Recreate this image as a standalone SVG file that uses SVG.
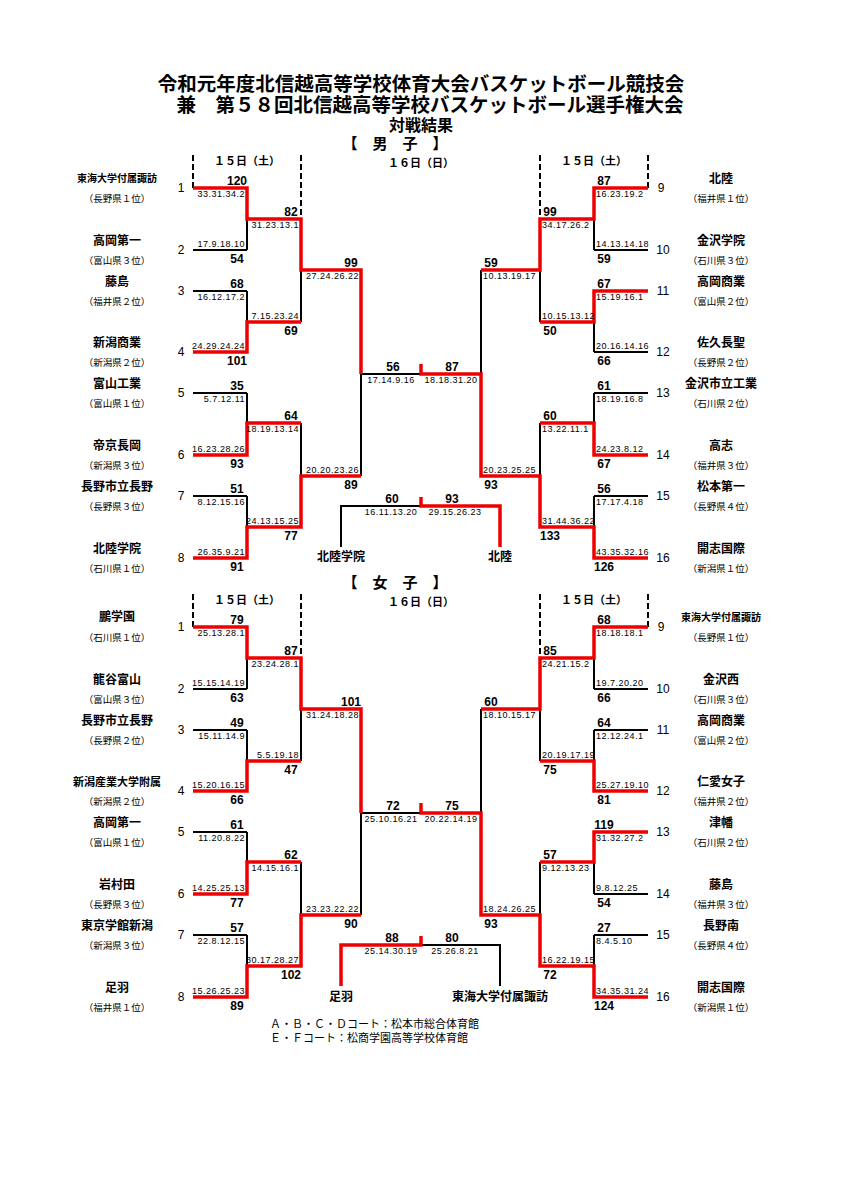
<svg xmlns="http://www.w3.org/2000/svg" width="848" height="1200" viewBox="0 0 848 1200">
<style>
text{font-family:"Liberation Sans","Noto Sans CJK JP",sans-serif;fill:#000}
.t{font-size:19.5px;font-weight:bold;text-anchor:middle}
.h{font-size:15px;font-weight:bold;text-anchor:middle}
.dt{font-size:11px;font-weight:bold;text-anchor:middle}
.n{font-size:12px;font-weight:bold;text-anchor:middle}
.ns{font-size:10px;font-weight:bold;text-anchor:middle}
.p{font-size:9.5px;text-anchor:middle}
.num{font-size:12px;text-anchor:middle}
.s{font-size:12px;font-weight:bold;text-anchor:middle}
.qe{font-size:9px;letter-spacing:0.5px;text-anchor:end}
.qs{font-size:9px;letter-spacing:0.5px;text-anchor:start}
.qm{font-size:9px;letter-spacing:0.5px;text-anchor:middle}
.f{font-size:11px}
.k{fill:none;stroke:#000;stroke-width:2}
.r{fill:none;stroke:#e00;stroke-width:3.5}
.d{fill:none;stroke:#000;stroke-width:2;stroke-dasharray:6,3}
</style>
<rect width="848" height="1200" fill="#fff"/>
<g id="title">
<text class="t" x="421" y="91">令和元年度北信越高等学校体育大会バスケットボール競技会</text>
<text class="t" x="430" y="112">兼　第５８回北信越高等学校バスケットボール選手権大会</text>
<text class="h" x="421" y="131" style="font-size:16px">対戦結果</text>
<text class="h" x="395" y="149">【　男　子　】</text>
<text class="dt" x="247" y="165">１５日（土）</text>
<text class="dt" x="421" y="167">１６日（日）</text>
<text class="dt" x="594" y="165">１５日（土）</text>
<text class="h" x="395" y="588">【　女　子　】</text>
<text class="dt" x="247" y="604">１５日（土）</text>
<text class="dt" x="421" y="606">１６日（日）</text>
<text class="dt" x="594" y="604">１５日（土）</text>
</g>
<g id="connectors">
<path class="d" d="M193 155V188M301 155V219M540 155V219M648 155V188M193 594V627M301 594V658M540 594V658M648 594V627"/>
<path class="k" d="M193 250H247M193 291H247M193 393H247M193 496H247M247 219V250M247 291V322M247 393V423M247 496V527M301 270V322M301 423V476M361 374V476M361 374H421"/>
<path class="k" d="M594 250H648M594 352H648M594 393H648M594 496H648M594 219V250M594 322V352M594 393V423M594 496V527M540 270V322M540 423V476M481 270V374"/>
<path class="k" d="M421 506H341V547"/>
<path class="r" d="M193 188H247V219H301V270H361V374M193 352H247V322H301M193 455H247V423H301M193 558H247V527H301V476H361"/>
<path class="r" d="M648 188H594V219H540V270H481M648 291H594V322H540M648 455H594V423H540M648 558H594V527H540V476H481V374H421V364"/>
<path class="r" d="M421 497V506H500V547"/>
<path class="k" d="M193 689H247M193 730H247M193 832H247M193 935H247M247 658V689M247 730V761M247 832V862M247 935V966M301 709V761M301 862V915M361 813V915M361 813H421"/>
<path class="k" d="M594 689H648M594 730H648M594 894H648M594 935H648M594 658V689M594 730V761M594 862V894M594 935V966M540 709V761M540 862V915M481 709V813"/>
<path class="k" d="M421 945H500V986"/>
<path class="r" d="M193 627H247V658H301V709H361V813M193 791H247V761H301M193 894H247V862H301M193 997H247V966H301V915H361"/>
<path class="r" d="M648 627H594V658H540V709H481M648 791H594V761H540M648 832H594V862H540M648 997H594V966H540V915H481V813H421V803"/>
<path class="r" d="M421 936V945H341V986"/>
</g>
<g id="m1"><text class="ns" x="117" y="182">東海大学付属諏訪</text><text class="p" x="117" y="202">（長野県１位）</text><text class="num" x="181" y="192">1</text></g>
<g id="m2"><text class="n" x="117" y="245">高岡第一</text><text class="p" x="117" y="264">（富山県３位）</text><text class="num" x="181" y="254">2</text></g>
<g id="m3"><text class="n" x="117" y="286">藤島</text><text class="p" x="117" y="305">（福井県２位）</text><text class="num" x="181" y="295">3</text></g>
<g id="m4"><text class="n" x="117" y="347">新潟商業</text><text class="p" x="117" y="366">（新潟県２位）</text><text class="num" x="181" y="356">4</text></g>
<g id="m5"><text class="n" x="117" y="388">富山工業</text><text class="p" x="117" y="407">（富山県１位）</text><text class="num" x="181" y="397">5</text></g>
<g id="m6"><text class="n" x="117" y="450">帝京長岡</text><text class="p" x="117" y="469">（新潟県３位）</text><text class="num" x="181" y="459">6</text></g>
<g id="m7"><text class="n" x="117" y="491">長野市立長野</text><text class="p" x="117" y="510">（長野県３位）</text><text class="num" x="181" y="500">7</text></g>
<g id="m8"><text class="n" x="117" y="553">北陸学院</text><text class="p" x="117" y="572">（石川県１位）</text><text class="num" x="181" y="562">8</text></g>
<g id="m9"><text class="n" x="721" y="183">北陸</text><text class="p" x="721" y="202">（福井県１位）</text><text class="num" x="661" y="192">9</text></g>
<g id="m10"><text class="n" x="721" y="245">金沢学院</text><text class="p" x="721" y="264">（石川県３位）</text><text class="num" x="663" y="254">10</text></g>
<g id="m11"><text class="n" x="721" y="286">高岡商業</text><text class="p" x="721" y="305">（富山県２位）</text><text class="num" x="663" y="295">11</text></g>
<g id="m12"><text class="n" x="721" y="347">佐久長聖</text><text class="p" x="721" y="366">（長野県２位）</text><text class="num" x="663" y="356">12</text></g>
<g id="m13"><text class="n" x="721" y="388">金沢市立工業</text><text class="p" x="721" y="407">（石川県２位）</text><text class="num" x="663" y="397">13</text></g>
<g id="m14"><text class="n" x="721" y="450">高志</text><text class="p" x="721" y="469">（福井県３位）</text><text class="num" x="663" y="459">14</text></g>
<g id="m15"><text class="n" x="721" y="491">松本第一</text><text class="p" x="721" y="510">（長野県４位）</text><text class="num" x="663" y="500">15</text></g>
<g id="m16"><text class="n" x="721" y="553">開志国際</text><text class="p" x="721" y="572">（新潟県１位）</text><text class="num" x="663" y="562">16</text></g>
<g id="mfL"><text class="n" x="341" y="561">北陸学院</text></g>
<g id="mfR"><text class="n" x="500" y="561">北陸</text></g>
<g id="w1"><text class="n" x="117" y="621">鵬学園</text><text class="p" x="117" y="641">（石川県１位）</text><text class="num" x="181" y="631">1</text></g>
<g id="w2"><text class="n" x="117" y="684">龍谷富山</text><text class="p" x="117" y="703">（富山県３位）</text><text class="num" x="181" y="693">2</text></g>
<g id="w3"><text class="n" x="117" y="725">長野市立長野</text><text class="p" x="117" y="744">（長野県２位）</text><text class="num" x="181" y="734">3</text></g>
<g id="w4"><text class="n" x="117" y="786" style="font-size:11px">新潟産業大学附属</text><text class="p" x="117" y="805">（新潟県２位）</text><text class="num" x="181" y="795">4</text></g>
<g id="w5"><text class="n" x="117" y="827">高岡第一</text><text class="p" x="117" y="846">（富山県１位）</text><text class="num" x="181" y="836">5</text></g>
<g id="w6"><text class="n" x="117" y="889">岩村田</text><text class="p" x="117" y="908">（長野県３位）</text><text class="num" x="181" y="898">6</text></g>
<g id="w7"><text class="n" x="117" y="930">東京学館新潟</text><text class="p" x="117" y="949">（新潟県３位）</text><text class="num" x="181" y="939">7</text></g>
<g id="w8"><text class="n" x="117" y="992">足羽</text><text class="p" x="117" y="1011">（福井県１位）</text><text class="num" x="181" y="1001">8</text></g>
<g id="w9"><text class="ns" x="721" y="621">東海大学付属諏訪</text><text class="p" x="721" y="641">（長野県１位）</text><text class="num" x="661" y="631">9</text></g>
<g id="w10"><text class="n" x="721" y="684">金沢西</text><text class="p" x="721" y="703">（石川県３位）</text><text class="num" x="663" y="693">10</text></g>
<g id="w11"><text class="n" x="721" y="725">高岡商業</text><text class="p" x="721" y="744">（富山県２位）</text><text class="num" x="663" y="734">11</text></g>
<g id="w12"><text class="n" x="721" y="786">仁愛女子</text><text class="p" x="721" y="805">（福井県２位）</text><text class="num" x="663" y="795">12</text></g>
<g id="w13"><text class="n" x="721" y="827">津幡</text><text class="p" x="721" y="846">（石川県２位）</text><text class="num" x="663" y="836">13</text></g>
<g id="w14"><text class="n" x="721" y="889">藤島</text><text class="p" x="721" y="908">（福井県３位）</text><text class="num" x="663" y="898">14</text></g>
<g id="w15"><text class="n" x="721" y="930">長野南</text><text class="p" x="721" y="949">（長野県４位）</text><text class="num" x="663" y="939">15</text></g>
<g id="w16"><text class="n" x="721" y="992">開志国際</text><text class="p" x="721" y="1011">（新潟県１位）</text><text class="num" x="663" y="1001">16</text></g>
<g id="wfL"><text class="n" x="341" y="1001">足羽</text></g>
<g id="wfR"><text class="n" x="500" y="1001">東海大学付属諏訪</text></g>
<g id="scores-men">
<text class="s" x="237" y="185">120</text><text class="qe" x="245" y="197">33.31.34.2</text>
<text class="qe" x="245" y="247">17.9.18.10</text><text class="s" x="237" y="263">54</text>
<text class="s" x="237" y="288">68</text><text class="qe" x="245" y="300">16.12.17.2</text>
<text class="qe" x="245" y="349">24.29.24.24</text><text class="s" x="237" y="365">101</text>
<text class="s" x="237" y="390">35</text><text class="qe" x="245" y="402">5.7.12.11</text>
<text class="qe" x="245" y="452">16.23.28.26</text><text class="s" x="237" y="468">93</text>
<text class="s" x="237" y="493">51</text><text class="qe" x="245" y="505">8.12.15.16</text>
<text class="qe" x="245" y="555">26.35.9.21</text><text class="s" x="237" y="571">91</text>
<text class="s" x="291" y="216">82</text><text class="qe" x="299" y="228">31.23.13.1</text>
<text class="qe" x="299" y="319">7.15.23.24</text><text class="s" x="291" y="335">69</text>
<text class="s" x="291" y="420">64</text><text class="qe" x="299" y="432">18.19.13.14</text>
<text class="qe" x="299" y="524">24.13.15.25</text><text class="s" x="291" y="540">77</text>
<text class="s" x="351" y="267">99</text><text class="qe" x="359" y="279">27.24.26.22</text>
<text class="qe" x="359" y="473">20.20.23.26</text><text class="s" x="351" y="489">89</text>
<text class="s" x="393" y="371">56</text><text class="qm" x="391" y="383">17.14.9.16</text>
<text class="s" x="452" y="371">87</text><text class="qm" x="451" y="383">18.18.31.20</text>
<text class="s" x="392" y="503">60</text><text class="qm" x="391" y="515">16.11.13.20</text>
<text class="s" x="452" y="503">93</text><text class="qm" x="455" y="515">29.15.26.23</text>
<text class="s" x="604" y="185">87</text><text class="qs" x="596" y="197">16.23.19.2</text>
<text class="qs" x="596" y="247">14.13.14.18</text><text class="s" x="604" y="263">59</text>
<text class="s" x="604" y="288">67</text><text class="qs" x="596" y="300">15.19.16.1</text>
<text class="qs" x="596" y="349">20.16.14.16</text><text class="s" x="604" y="365">66</text>
<text class="s" x="604" y="390">61</text><text class="qs" x="596" y="402">18.19.16.8</text>
<text class="qs" x="596" y="452">24.23.8.12</text><text class="s" x="604" y="468">67</text>
<text class="s" x="604" y="493">56</text><text class="qs" x="596" y="505">17.17.4.18</text>
<text class="qs" x="596" y="555">43.35.32.16</text><text class="s" x="604" y="571">126</text>
<text class="s" x="550" y="216">99</text><text class="qs" x="542" y="228">34.17.26.2</text>
<text class="qs" x="542" y="319">10.15.13.12</text><text class="s" x="550" y="335">50</text>
<text class="s" x="550" y="420">60</text><text class="qs" x="542" y="432">13.22.11.1</text>
<text class="qs" x="542" y="524">31.44.36.22</text><text class="s" x="550" y="540">133</text>
<text class="s" x="491" y="267">59</text><text class="qs" x="483" y="279">10.13.19.17</text>
<text class="qs" x="483" y="473">20.23.25.25</text><text class="s" x="491" y="489">93</text>
</g>
<g id="scores-women">
<text class="s" x="237" y="624">79</text><text class="qe" x="245" y="636">25.13.28.1</text>
<text class="qe" x="245" y="686">15.15.14.19</text><text class="s" x="237" y="702">63</text>
<text class="s" x="237" y="727">49</text><text class="qe" x="245" y="739">15.11.14.9</text>
<text class="qe" x="245" y="788">15.20.16.15</text><text class="s" x="237" y="804">66</text>
<text class="s" x="237" y="829">61</text><text class="qe" x="245" y="841">11.20.8.22</text>
<text class="qe" x="245" y="891">14.25.25.13</text><text class="s" x="237" y="907">77</text>
<text class="s" x="237" y="932">57</text><text class="qe" x="245" y="944">22.8.12.15</text>
<text class="qe" x="245" y="994">15.26.25.23</text><text class="s" x="237" y="1010">89</text>
<text class="s" x="291" y="655">87</text><text class="qe" x="299" y="667">23.24.28.1</text>
<text class="qe" x="299" y="758">5.5.19.18</text><text class="s" x="291" y="774">47</text>
<text class="s" x="291" y="859">62</text><text class="qe" x="299" y="871">14.15.16.1</text>
<text class="qe" x="299" y="963">30.17.28.27</text><text class="s" x="291" y="979">102</text>
<text class="s" x="351" y="706">101</text><text class="qe" x="359" y="718">31.24.18.28</text>
<text class="qe" x="359" y="912">23.23.22.22</text><text class="s" x="351" y="928">90</text>
<text class="s" x="393" y="810">72</text><text class="qm" x="391" y="822">25.10.16.21</text>
<text class="s" x="452" y="810">75</text><text class="qm" x="451" y="822">20.22.14.19</text>
<text class="s" x="392" y="942">88</text><text class="qm" x="391" y="954">25.14.30.19</text>
<text class="s" x="452" y="942">80</text><text class="qm" x="455" y="954">25.26.8.21</text>
<text class="s" x="604" y="624">68</text><text class="qs" x="596" y="636">18.18.18.1</text>
<text class="qs" x="596" y="686">19.7.20.20</text><text class="s" x="604" y="702">66</text>
<text class="s" x="604" y="727">64</text><text class="qs" x="596" y="739">12.12.24.1</text>
<text class="qs" x="596" y="788">25.27.19.10</text><text class="s" x="604" y="804">81</text>
<text class="s" x="604" y="829">119</text><text class="qs" x="596" y="841">31.32.27.2</text>
<text class="qs" x="596" y="891">9.8.12.25</text><text class="s" x="604" y="907">54</text>
<text class="s" x="604" y="932">27</text><text class="qs" x="596" y="944">8.4.5.10</text>
<text class="qs" x="596" y="994">34.35.31.24</text><text class="s" x="604" y="1010">124</text>
<text class="s" x="550" y="655">85</text><text class="qs" x="542" y="667">24.21.15.2</text>
<text class="qs" x="542" y="758">20.19.17.19</text><text class="s" x="550" y="774">75</text>
<text class="s" x="550" y="859">57</text><text class="qs" x="542" y="871">9.12.13.23</text>
<text class="qs" x="542" y="963">16.22.19.15</text><text class="s" x="550" y="979">72</text>
<text class="s" x="491" y="706">60</text><text class="qs" x="483" y="718">18.10.15.17</text>
<text class="qs" x="483" y="912">18.24.26.25</text><text class="s" x="491" y="928">93</text>
</g>
<g id="footer">
<text class="f" x="270" y="1028">Ａ・Ｂ・Ｃ・Ｄコート：松本市総合体育館</text>
<text class="f" x="270" y="1042">Ｅ・Ｆコート：松商学園高等学校体育館</text>
</g>
</svg>
